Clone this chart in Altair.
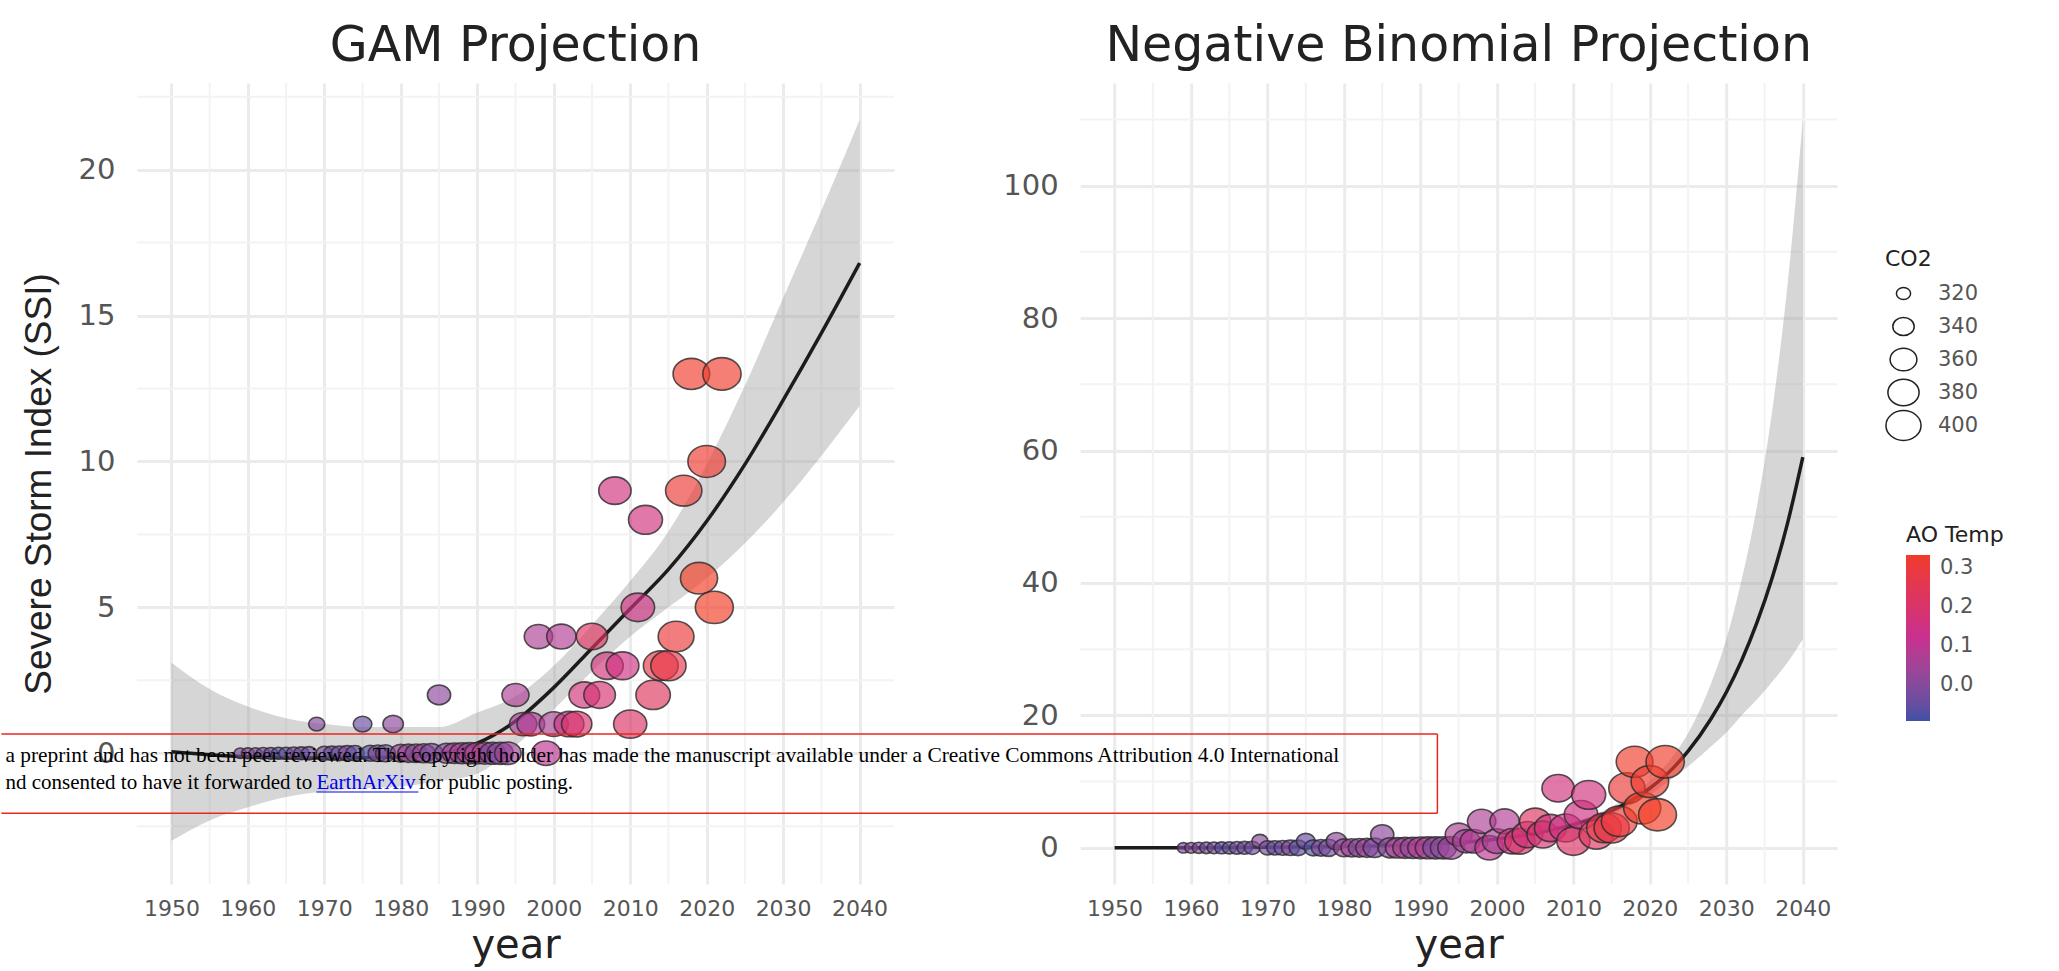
import altair as alt
import pandas as pd

# ---------------- observed annual series ----------------
years = list(range(1959, 2023))
ssi = [0, 0, 0, 0, 0, 0, 0, 0, 0, 0,      # 1959-1968
       1, 0, 0, 0, 0, 0, 1, 0, 0, 0,      # 1969-1978
       1, 0, 0, 0, 0, 0, 2, 0, 0, 0,      # 1979-1988
       0, 0, 0, 0, 0, 0, 2, 1, 1, 4,      # 1989-1998
       0, 1, 4, 1, 1, 2, 4, 2, 3, 9,      # 1999-2008
       3, 1, 5, 8, 2, 3, 3, 4, 9, 13,     # 2009-2018
       6, 10, 5, 13]                      # 2019-2022
co2 = [316.0, 316.9, 317.6, 318.5, 319.0, 319.6, 320.0, 321.4, 322.2, 323.1,
       324.6, 325.7, 326.3, 327.5, 329.7, 330.2, 331.1, 332.0, 333.8, 335.4,
       336.8, 338.8, 340.1, 341.5, 343.2, 344.9, 346.4, 347.6, 349.3, 351.7,
       353.2, 354.5, 355.7, 356.5, 357.2, 359.0, 361.0, 362.7, 363.9, 366.8,
       368.5, 369.7, 371.3, 373.5, 376.0, 377.7, 380.0, 382.1, 384.0, 385.8,
       387.6, 390.1, 391.9, 394.1, 396.7, 398.8, 401.0, 404.4, 406.8, 408.7,
       411.7, 414.2, 416.5, 418.6]
ao_temp = [-0.02, 0.00, -0.01, -0.02, -0.03, -0.06, -0.05, -0.02, -0.04, -0.03,
           0.00, -0.02, -0.05, -0.03, 0.00, -0.06, -0.04, -0.07, 0.00, -0.03,
           0.01, 0.03, 0.05, -0.01, 0.05, -0.02, 0.01, 0.01, 0.06, 0.06,
           0.03, 0.08, 0.07, -0.01, 0.01, 0.04, 0.07, 0.06, 0.08, 0.07,
           0.10, 0.06, 0.08, 0.15, 0.20, 0.17, 0.22, 0.18, 0.17, 0.16,
           0.15, 0.21, 0.15, 0.16, 0.23, 0.28, 0.27, 0.30, 0.31, 0.33,
           0.34, 0.32, 0.34, 0.33]

# ---------------- GAM smooth with confidence band ----------------
gam_year = [1950, 1955, 1960, 1965, 1970, 1975, 1980, 1985, 1990, 1995,
            2000, 2005, 2010, 2015, 2020, 2025, 2030, 2035, 2040]
gam_fit = [0.05, -0.05, -0.12, -0.15, -0.16, -0.15, -0.12, -0.02, 0.35, 1.1,
           2.25, 3.6, 4.95, 6.3, 7.95, 9.9, 12.1, 14.4, 16.8]
gam_lo = [-3.0, -2.3, -1.85, -1.5, -1.3, -1.2, -1.14, -0.95, -0.7, 0.25,
          1.5, 2.8, 4.0, 5.0, 6.0, 7.2, 8.6, 10.2, 11.9]
gam_hi = [3.1, 2.2, 1.6, 1.2, 1.0, 0.9, 0.9, 0.9, 1.4, 1.95,
          3.0, 4.4, 5.9, 7.6, 9.9, 12.6, 15.6, 18.6, 21.7]

# ---------------- negative binomial smooth with confidence band ----------------
nb_year = [1950, 1960, 1970, 1980, 1990, 1995, 2000, 2005, 2010, 2015,
           2020, 2023, 2025, 2028, 2030, 2032, 2034, 2036, 2038, 2040]
nb_fit = [0.01, 0.03, 0.08, 0.2, 0.5, 0.82, 1.35, 2.2, 3.5, 5.6,
          9.0, 12.0, 14.6, 19.5, 23.5, 28.3, 34.0, 40.8, 49.0, 59.0]
nb_lo = [0.0, 0.02, 0.06, 0.15, 0.42, 0.71, 1.18, 1.95, 3.15, 5.05,
         8.0, 10.5, 12.3, 15.3, 17.4, 20.0, 22.4, 25.1, 28.0, 31.5]
nb_hi = [0.02, 0.05, 0.11, 0.26, 0.6, 0.95, 1.55, 2.5, 3.9, 6.2,
         10.1, 13.8, 17.3, 24.8, 31.5, 40.5, 51.5, 66.0, 85.0, 110.0]

# ---------------- axes, grid and legend breaks ----------------
x_major = [1950, 1960, 1970, 1980, 1990, 2000, 2010, 2020, 2030, 2040]
x_minor = [1955, 1965, 1975, 1985, 1995, 2005, 2015, 2025, 2035]
gam_y_major = [0, 5, 10, 15, 20]
gam_y_minor = [-2.5, 2.5, 7.5, 12.5, 17.5, 22.5]
nb_y_major = [0, 20, 40, 60, 80, 100]
nb_y_minor = [10, 30, 50, 70, 90, 110]
co2_breaks = [320, 340, 360, 380, 400]
ao_breaks = [0.0, 0.1, 0.2, 0.3]

titles = ["GAM Projection", "Negative Binomial Projection"]
y_title = "Severe Storm Index (SSI)"
x_title = "year"
notice_line1 = ("a preprint and has not been peer reviewed. The copyright holder has made "
                "the manuscript available under a  Creative Commons Attribution 4.0 International")
notice_line2 = ["nd consented to have it forwarded to ", "EarthArXiv", " for public posting."]

obs = pd.DataFrame({"year": years, "ssi": ssi, "co2": co2, "ao": ao_temp})
gam = pd.DataFrame({"year": gam_year, "fit": gam_fit, "lo": gam_lo, "hi": gam_hi})
nb = pd.DataFrame({"year": nb_year, "fit": nb_fit, "lo": nb_lo, "hi": nb_hi})

PW, PH = 757, 801          # plot area of each panel
PANEL_GAP = 186.2          # left edge of right panel minus right edge of left panel
ELLIPSE = "M -1 0 A 1 0.85 0 1 0 1 0 A 1 0.85 0 1 0 -1 0 Z"
SANS = "DejaVu Sans"
MAJOR_GRID = "#ebebeb"
MINOR_GRID = "#f3f3f3"

x_scale = alt.Scale(domain=[1945.5, 2044.5], nice=False, zero=False)


def x_enc(field):
    return alt.X(f"{field}:Q", scale=x_scale, title=x_title,
                 axis=alt.Axis(values=x_major, format="d", grid=True, gridColor=MAJOR_GRID,
                               gridWidth=3, domain=False, ticks=False, tickSize=0,
                               labelFont=SANS, labelFontSize=22, labelColor="#555555",
                               labelPadding=14.5, labelFlush=False,
                               titleFont=SANS, titleFontSize=40, titleFontWeight="normal",
                               titleColor="#222222", titleBaseline="top", titleY=41))


def y_enc(field, domain, major, title):
    axis_kw = dict(values=major, format="d", grid=True, gridColor=MAJOR_GRID, gridWidth=3,
                   domain=False, ticks=False, tickSize=0, labelFont=SANS, labelFontSize=29,
                   labelColor="#555555", labelPadding=22, labelFlush=False)
    if title:
        axis_kw.update(titleFont="Liberation Sans", titleFontSize=37,
                       titleFontWeight="normal", titleColor="#222222",
                       titleX=-97.6, titleY=PH / 2, titleBaseline="middle",
                       titleAlign="center", titleAngle=270)
    return alt.Y(f"{field}:Q", scale=alt.Scale(domain=domain, nice=False, zero=False),
                 title=title if title else "", axis=alt.Axis(**axis_kw))


fill_enc = alt.Fill(
    "ao:Q",
    scale=alt.Scale(domain=[-0.092, 0.12, 0.333],
                    range=["#3f51a6", "#c7318f", "#f03c2a"], interpolate="lab"),
    legend=alt.Legend(title="AO Temp", orient="none", legendX=1769, legendY=442,
                      values=ao_breaks, format=".1f", direction="vertical",
                      gradientLength=166, gradientThickness=24, gradientStrokeWidth=0,
                      titleFont=SANS, titleFontSize=22, titleFontWeight="normal",
                      titleColor="#222222", titlePadding=8,
                      labelFont=SANS, labelFontSize=21, labelColor="#555555",
                      labelOffset=10))
size_enc = alt.Size(
    "co2:Q",
    scale=alt.Scale(domain=[316, 421], range=[150, 1500]),
    legend=alt.Legend(title="CO2", orient="none", legendX=1748, legendY=166,
                      values=co2_breaks, symbolType=ELLIPSE, symbolFillColor="white",
                      symbolStrokeColor="#222222", symbolStrokeWidth=1.5, symbolOpacity=1,
                      titleFont=SANS, titleFontSize=22, titleFontWeight="normal",
                      titleColor="#222222", titlePadding=6, rowPadding=0, clipHeight=33,
                      labelFont=SANS, labelFontSize=21, labelColor="#555555",
                      labelOffset=16))


def panel(title, smooth, y_domain, y_major, y_minor, y_label):
    ys = y_enc
    minor_x = alt.Chart(pd.DataFrame({"v": x_minor})).mark_rule(
        color=MINOR_GRID, strokeWidth=2).encode(x=x_enc("v"))
    minor_y = alt.Chart(pd.DataFrame({"v": y_minor})).mark_rule(
        color=MINOR_GRID, strokeWidth=2).encode(y=ys("v", y_domain, y_major, y_label))
    band = alt.Chart(smooth).mark_area(
        color="#999999", opacity=0.4, interpolate="monotone").encode(
        x=x_enc("year"), y=ys("lo", y_domain, y_major, y_label), y2="hi:Q")
    line = alt.Chart(smooth).mark_line(
        color="#1c1c1c", strokeWidth=3.5, interpolate="monotone").encode(
        x=x_enc("year"), y=ys("fit", y_domain, y_major, y_label))
    pts = alt.Chart(obs).mark_point(
        shape=ELLIPSE, filled=True, opacity=1, fillOpacity=0.66,
        stroke="#2a2a2a", strokeWidth=1.6, strokeOpacity=0.8).encode(
        x=x_enc("year"), y=ys("ssi", y_domain, y_major, y_label),
        fill=fill_enc, size=size_enc)
    return alt.layer(minor_x, minor_y, band, line, pts).properties(
        width=PW, height=PH,
        title=alt.TitleParams(title, font=SANS, fontSize=49, fontWeight="normal",
                              color="#222222", anchor="middle", baseline="alphabetic",
                              offset=-28))


left = panel(titles[0], gam, [-4.48, 22.97], gam_y_major, gam_y_minor, y_title)
right = panel(titles[1], nb, [-5.46, 115.5], nb_y_major, nb_y_minor, "")

# preprint notice box laid over both panels (positions relative to the right panel)
RX = PW + PANEL_GAP        # right panel origin measured from left panel origin
LEFT0 = -(RX + 135.6)      # page's left edge in right-panel coordinates
BOX_TOP, BOX_BOTTOM, BOX_RIGHT = 651, 730.3, LEFT0 + 1436
anchor = pd.DataFrame({"k": [0]})
red = dict(color="#e8271f", strokeWidth=1.5)
box_top = alt.Chart(anchor).mark_rule(**red).encode(
    x=alt.value(LEFT0), x2=alt.value(BOX_RIGHT), y=alt.value(BOX_TOP))
box_bottom = alt.Chart(anchor).mark_rule(**red).encode(
    x=alt.value(LEFT0), x2=alt.value(BOX_RIGHT), y=alt.value(BOX_BOTTOM))
box_side = alt.Chart(anchor).mark_rule(**red).encode(
    x=alt.value(BOX_RIGHT), y=alt.value(BOX_TOP), y2=alt.value(BOX_BOTTOM))
serif1 = dict(align="left", baseline="alphabetic", font="Liberation Serif", fontSize=21.4)
serif2 = dict(align="left", baseline="alphabetic", font="Liberation Serif", fontSize=21)
t1 = alt.Chart(anchor).mark_text(color="black", **serif1).encode(
    x=alt.value(LEFT0 + 4), y=alt.value(678.5), text=alt.value(notice_line1))
t2a = alt.Chart(anchor).mark_text(color="black", **serif2).encode(
    x=alt.value(LEFT0 + 4), y=alt.value(705.5), text=alt.value(notice_line2[0]))
t2b = alt.Chart(anchor).mark_text(color="#0000ee", **serif2).encode(
    x=alt.value(LEFT0 + 315), y=alt.value(705.5), text=alt.value(notice_line2[1]))
t2c = alt.Chart(anchor).mark_text(color="black", **serif2).encode(
    x=alt.value(LEFT0 + 417), y=alt.value(705.5), text=alt.value(notice_line2[2]))
link_rule = alt.Chart(anchor).mark_rule(color="#0000ee", strokeWidth=1.2).encode(
    x=alt.value(LEFT0 + 315), x2=alt.value(LEFT0 + 417), y=alt.value(709))

right = alt.layer(right, box_top, box_bottom, box_side, t1, t2a, t2b, t2c, link_rule)

chart = alt.hconcat(left, right, spacing=PANEL_GAP, bounds="flush").resolve_scale(
    x="independent", y="independent", fill="shared", size="shared"
).properties(
    padding={"left": 0, "top": 21, "right": 5, "bottom": 5},
    background="white",
).configure_view(stroke="transparent")

chart.save("out.html", embed_options={"renderer": "svg", "actions": False})
